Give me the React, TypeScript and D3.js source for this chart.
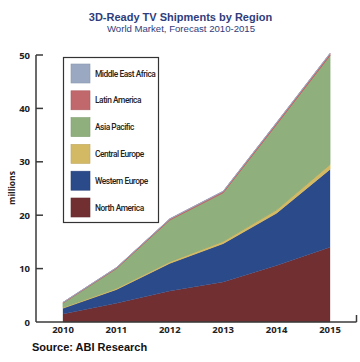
import React from "react";
import * as d3 from "d3";

const years = [2010, 2011, 2012, 2013, 2014, 2015];
const northAmerica = [1.5, 3.5, 5.8, 7.5, 10.6, 14.0];
const westernEurope = [1.1, 2.6, 5.2, 7.2, 9.8, 14.6];
const centralEurope = [0.15, 0.2, 0.3, 0.4, 0.6, 0.9];
const asiaPacific = [0.8, 3.7, 7.8, 9.1, 16.0, 20.4];
const latinAmerica = [0.1, 0.15, 0.2, 0.25, 0.3, 0.35];
const middleEastAfrica = [0.02, 0.03, 0.04, 0.05, 0.06, 0.07];
const yTicks = [0, 10, 20, 30, 40, 50];

const seriesKeys = ["North America", "Western Europe", "Central Europe", "Asia Pacific", "Latin America", "Middle East Africa"];
const seriesValues = [northAmerica, westernEurope, centralEurope, asiaPacific, latinAmerica, middleEastAfrica];
const colors = ["#722f32", "#2b4a8a", "#d4b964", "#8fb07d", "#c0686b", "#9aa8c2"];
const strokes = ["#6a2a2d", "#2a4785", "#d9bd5e", "#8aab78", "#c45a60", "#9aa8c2"];

export default function App() {
  const W = 360, H = 362;
  const x = d3.scaleLinear().domain([2010, 2015]).range([63, 330]);
  const y = d3.scaleLinear().domain([0, 50]).range([322, 55]);

  const table = years.map((yr, i) => {
    const row: any = { year: yr };
    seriesKeys.forEach((k, j) => (row[k] = seriesValues[j][i]));
    return row;
  });
  const stack = d3.stack<any>().keys(seriesKeys);
  const layers = stack(table);
  const area = d3
    .area<any>()
    .x((d) => x(d.data.year))
    .y0((d) => y(d[0]))
    .y1((d) => y(d[1]));

  const legendOrder = [5, 4, 3, 2, 1, 0];
  const axisColor = "#3a3a3a";

  return (
    <svg width={W} height={H} style={{ position: "absolute", left: 0, top: 0, background: "#fff" }}>
      <text x={180.5} y={20.5} textAnchor="middle" fontFamily="Liberation Sans, Arial, sans-serif" fontSize={11} fill="#2f3d7c" fontWeight={600}>
        3D-Ready TV Shipments by Region
      </text>
      <text x={181} y={31.5} textAnchor="middle" fontFamily="Liberation Sans, Arial, sans-serif" fontSize={9.6} fill="#2f3d7c">
        World Market, Forecast 2010-2015
      </text>

      {layers.map((layer, i) => (
        <path key={i} d={area(layer) || ""} fill={colors[i]} stroke={strokes[i]} strokeWidth={i >= 2 ? 0.8 : 0.3} />
      ))}

      {/* axes */}
      <line x1={36} x2={36} y1={y(50)} y2={y(0)} stroke={axisColor} strokeWidth={1.5} />
      <line x1={36} x2={356.5} y1={y(0)} y2={y(0)} stroke={axisColor} strokeWidth={1.5} />
      <line x1={356.5} x2={356.5} y1={y(0) - 7} y2={y(0)} stroke={axisColor} strokeWidth={1.5} />
      {yTicks.map((t) => (
        <g key={t}>
          {t > 0 && <line x1={36} x2={43} y1={y(t)} y2={y(t)} stroke={axisColor} strokeWidth={1.5} />}
          <text x={30} y={y(t) + 3.5} textAnchor="end" fontFamily="Open Sans, sans-serif" fontWeight={700} fontSize={9.5} fill="#222">
            {t}
          </text>
        </g>
      ))}
      {years.map((yr) => (
        <text key={yr} x={x(yr)} y={332.5} textAnchor="middle" fontFamily="Open Sans, sans-serif" fontWeight={700} fontSize={9.5} fill="#222">
          {yr}
        </text>
      ))}
      <text transform={`translate(15,188) rotate(-90)`} textAnchor="middle" fontFamily="Open Sans, sans-serif" fontWeight={700} fontSize={8.5} fill="#222">
        millions
      </text>

      {/* legend */}
      <rect x={63.5} y={57.5} width={95} height={165} fill="#fff" stroke="#333" strokeWidth={1.2} />
      {legendOrder.map((si, i) => {
        const yy = 64 + i * 26.8;
        return (
          <g key={si}>
            <rect x={71} y={yy} width={19} height={19} fill={colors[si]} stroke={d3.color(colors[si])!.darker(0.3).toString()} strokeWidth={0.6} />
            <text x={95} y={yy + 12.5} fontFamily="Roboto, sans-serif" fontWeight={500} fontSize={8.4} letterSpacing={-0.45} fill="#222">
              {seriesKeys[si]}
            </text>
          </g>
        );
      })}

      <text x={32} y={350.5} fontFamily="Liberation Sans, Arial, sans-serif" fontWeight={700} fontSize={11} fill="#111">
        Source: ABI Research
      </text>
    </svg>
  );
}
